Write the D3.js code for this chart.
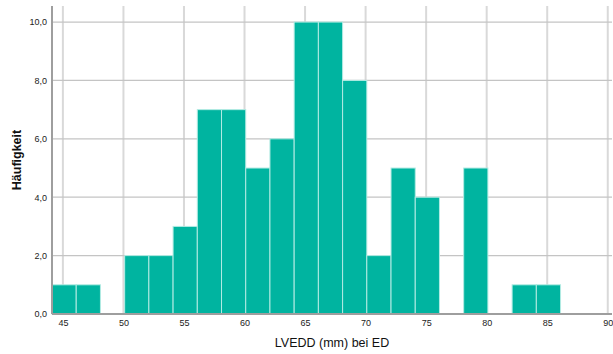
<!DOCTYPE html>
<html>
<head>
<meta charset="utf-8">
<script src="https://cdn.jsdelivr.net/npm/d3@7"></script>
<style>
  body { margin: 0; background: #fff; }
  svg { font-family: Arial, "Liberation Sans", sans-serif; }
</style>
</head>
<body>
<svg width="613" height="354"></svg>
<script>
// bin lower edges (mm), bin width 2
const binStarts = [44.1, 46.1, 48.1, 50.1, 52.1, 54.1, 56.1, 58.1, 60.1, 62.1, 64.1,
                   66.1, 68.1, 70.1, 72.1, 74.1, 76.1, 78.1, 80.1, 82.1, 84.1];
const counts = [1, 1, 0, 2, 2, 3, 7, 7, 5, 6, 10, 10, 8, 2, 5, 4, 0, 5, 0, 1, 1];
const binWidth = 2;
const xTicks = [45, 50, 55, 60, 65, 70, 75, 80, 85, 90];
const yTicks = [0, 2, 4, 6, 8, 10];

const svg = d3.select("svg");
const mLeft = 52, mRight = 612, mTop = 6, mBottom = 314;

const x = d3.scaleLinear().domain([44.1, 90.35]).range([mLeft, mRight]);
const y = d3.scaleLinear().domain([0, 10.55]).range([mBottom, mTop]);

// vertical gridlines
svg.append("g")
  .selectAll("line")
  .data(xTicks)
  .join("line")
  .attr("x1", d => x(d)).attr("x2", d => x(d))
  .attr("y1", mTop).attr("y2", mBottom)
  .style("stroke", "#d9d9d9")
  .style("stroke-width", "2px");

// horizontal gridlines
svg.append("g")
  .selectAll("line")
  .data(yTicks.filter(d => d > 0))
  .join("line")
  .attr("x1", mLeft).attr("x2", mRight)
  .attr("y1", d => y(d)).attr("y2", d => y(d))
  .style("stroke", "#c4c4c4")
  .style("stroke-width", "1.3px");

// bars
const data = binStarts.map((b, i) => ({start: b, count: counts[i]}));
svg.append("g")
  .selectAll("rect")
  .data(data.filter(d => d.count > 0))
  .join("rect")
  .attr("x", d => x(d.start))
  .attr("y", d => y(d.count))
  .attr("width", d => x(d.start + binWidth) - x(d.start))
  .attr("height", d => y(0) - y(d.count))
  .style("fill", "#00b4a0")
  .style("stroke", "#b2ebe3")
  .style("stroke-width", "1px");

// axes
const fmt = d => d.toFixed(1).replace(".", ",");
const xAxis = svg.append("g")
  .attr("transform", `translate(0, ${mBottom})`)
  .call(d3.axisBottom(x).tickValues(xTicks).tickSize(0).tickPadding(6).tickFormat(d => d));
const yAxis = svg.append("g")
  .attr("transform", `translate(${mLeft}, 0)`)
  .call(d3.axisLeft(y).tickValues(yTicks).tickSize(0).tickPadding(5).tickFormat(fmt));

[xAxis, yAxis].forEach(a => {
  a.select(".domain").style("stroke", "#9e9e9e").style("stroke-width", "2px");
  a.selectAll("text")
    .style("font-family", "Arial, 'Liberation Sans', sans-serif")
    .style("font-size", "9px")
    .style("fill", "#222");
});
xAxis.select(".domain").attr("d", `M${mLeft},0H${mRight}`);
yAxis.select(".domain").attr("d", `M0,${mBottom}V${mTop}`);

// titles
svg.append("text")
  .attr("x", (mLeft + mRight) / 2)
  .attr("y", 347)
  .attr("text-anchor", "middle")
  .style("font-size", "12.5px")
  .style("fill", "#111")
  .text("LVEDD (mm) bei ED");

svg.append("text")
  .attr("transform", `translate(21, ${(mTop + mBottom) / 2}) rotate(-90)`)
  .attr("text-anchor", "middle")
  .style("font-size", "12.5px")
  .style("font-weight", "bold")
  .style("fill", "#111")
  .text("Häufigkeit");
</script>
</body>
</html>
